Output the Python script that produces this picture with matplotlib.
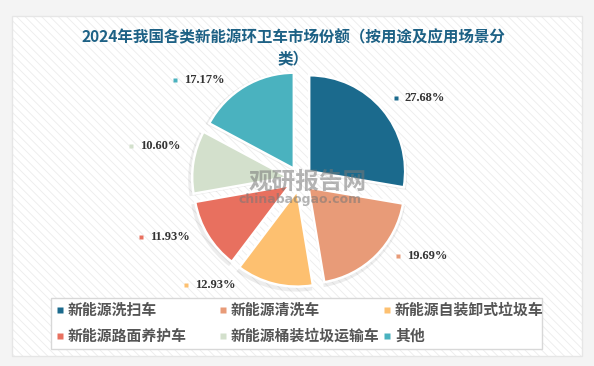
import numpy as np
import matplotlib.pyplot as plt
from matplotlib.patches import Rectangle

plt.rcParams['font.family'] = ['Noto Sans CJK SC', 'DejaVu Sans']
plt.rcParams['hatch.linewidth'] = 0.6

# data
categories = ['新能源洗扫车', '新能源清洗车', '新能源自装卸式垃圾车',
              '新能源路面养护车', '新能源桶装垃圾运输车', '其他']
shares = [27.68, 19.69, 12.93, 11.93, 10.60, 17.17]
colors = ['#1b6a8d', '#e89b78', '#fdc070', '#e8705f', '#d3e0cc', '#4ab2bf']

title = '2024年我国各类新能源环卫车市场份额（按用途及应用场景分\n类）'

# layout (pixel units, y up)
W, H = 594, 366
cx, cy, R, EXPL = 300, 187, 96, 12
label_r = 125
label_nudge = [0, -7, 18, 4, 6, -7]  # degrees clockwise, keeps labels apart

fig = plt.figure(figsize=(W / 100, H / 100), dpi=100)
fig.patch.set_facecolor('#f4f4f4')
ax = fig.add_axes([0, 0, 1, 1])

# card with fine diagonal stripes
ax.add_patch(Rectangle((12, 10), 570, 340, facecolor='white', edgecolor='#ececec',
                       hatch='\\\\\\\\', linewidth=0, zorder=0))
ax.add_patch(Rectangle((12, 10), 570, 340, facecolor='none', edgecolor='#e6e6e6',
                       linewidth=1, zorder=0.5))

# soft shadow under the slices
ax.pie(shares, center=(cx - 1, cy - 2), radius=R + 3, explode=[EXPL] * 6,
       startangle=90, counterclock=False, colors=['#000000'] * 6,
       wedgeprops=dict(alpha=0.07, linewidth=0), frame=True)
ax.pie(shares, center=(cx, cy), radius=R, explode=[EXPL] * 6,
       startangle=90, counterclock=False, colors=colors,
       wedgeprops=dict(edgecolor='white', linewidth=1.8), frame=True)

# percentage labels
cum = np.cumsum([0] + shares[:-1])
for i, s in enumerate(shares):
    ang = np.deg2rad((cum[i] + s / 2) / 100 * 360 + label_nudge[i])
    lx = cx + label_r * np.sin(ang)
    ly = cy + label_r * np.cos(ang)
    if np.sin(ang) < 0:
        lx -= 48
    ax.plot(lx, ly, marker='s', ms=3, color=colors[i], mec='none')
    ax.text(lx + 9, ly, f'{s:.2f}%', ha='left', va='center', fontsize=9,
            family='Liberation Serif', fontweight='bold', color='#333333')

# watermark
ax.text(308, 184, '观研报告网', ha='center', va='center', fontsize=17,
        fontweight='bold', color='#777777', alpha=0.55)
ax.text(300, 166, 'chinabaogao.com', ha='center', va='center', fontsize=9,
        fontweight='bold', color='#777777', alpha=0.55, family='DejaVu Sans')

# title
ax.text(293, 318, title, ha='center', va='center', fontsize=11.2,
        fontweight='bold', color='#1d6185', linespacing=1.45)

# legend
ax.add_patch(Rectangle((51, 17), 491, 51, facecolor='white', edgecolor='#d8d8d8',
                       linewidth=1, zorder=1))
col_x = [60, 223, 387]
row_y = [56, 30]
for i, name in enumerate(categories):
    x, y = col_x[i % 3], row_y[i // 3]
    ax.plot(x, y, marker='s', ms=4.5, color=colors[i], mec='none', zorder=2)
    ax.text(x + 8, y, name, ha='left', va='center', fontsize=10.7,
            fontweight='bold', color='#555555', zorder=2)

ax.set_xlim(0, W)
ax.set_ylim(0, H)
ax.set_aspect('auto')
ax.axis('off')

fig.savefig('out.png', dpi=100, facecolor=fig.get_facecolor())
